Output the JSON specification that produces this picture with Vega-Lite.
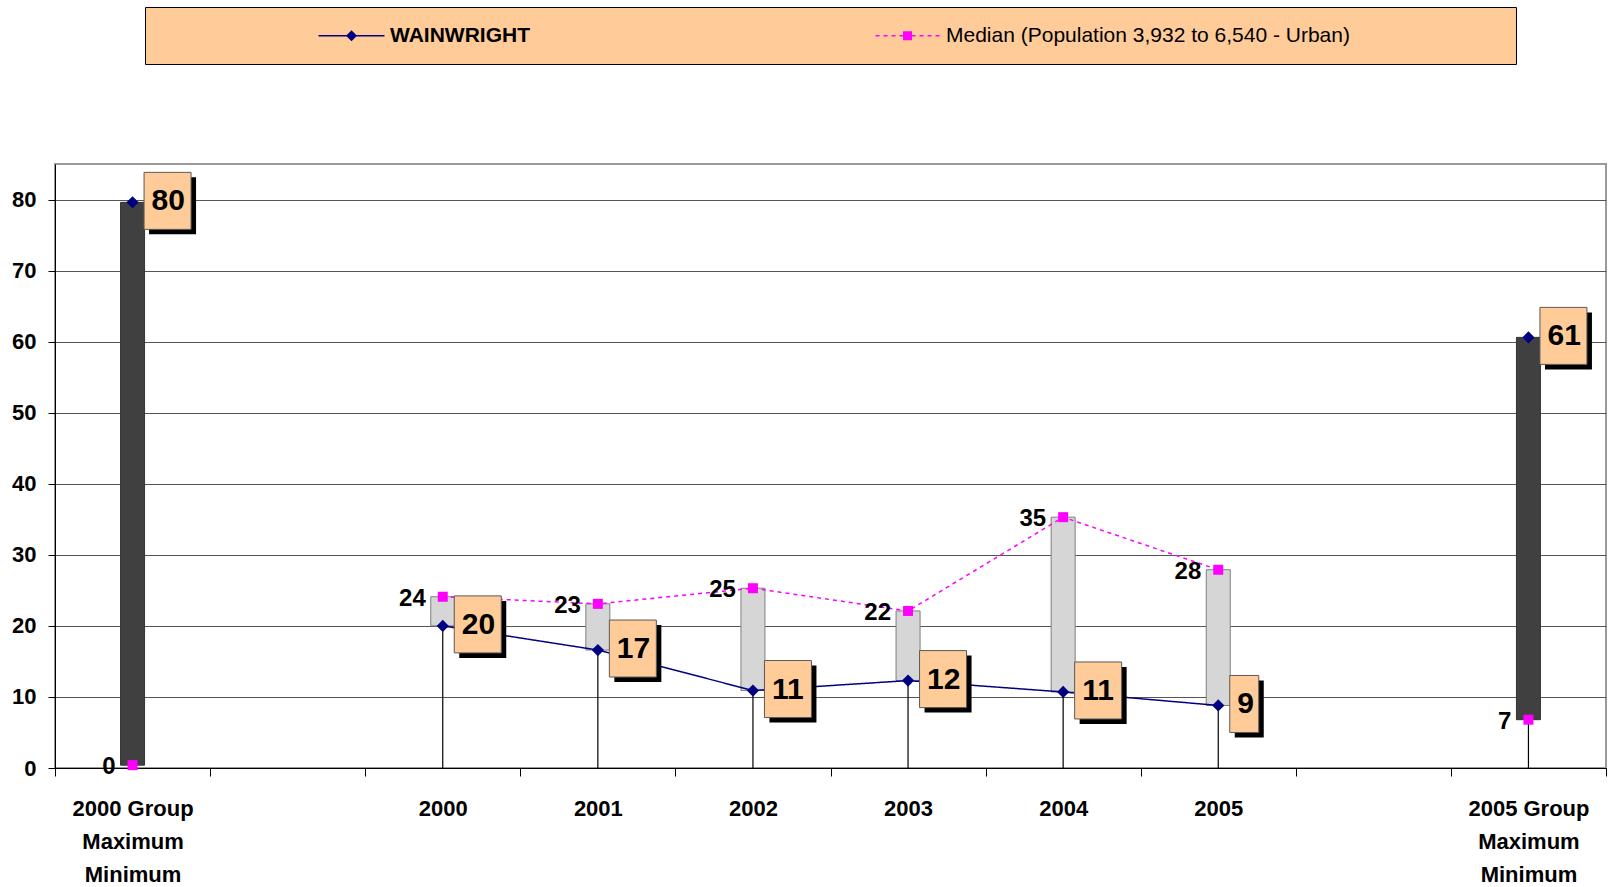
{
  "$schema": "https://vega.github.io/schema/vega-lite/v6.json",
  "autosize": {"type": "none"},
  "padding": {"left": 55, "top": 164, "right": 3, "bottom": 119},
  "width": 1551,
  "height": 604,
  "background": "#FFFFFF",
  "config": {
    "font": "Liberation Sans",
    "view": {"stroke": "#999999", "strokeWidth": 2}
  },
  "data": {
    "values": [
      {"cat": "G2000", "w": 79.6, "m": 0.4},
      {"cat": "2000", "w": 20.0, "m": 24.1},
      {"cat": "2001", "w": 16.6, "m": 23.1},
      {"cat": "2002", "w": 10.9, "m": 25.3},
      {"cat": "2003", "w": 12.3, "m": 22.1},
      {"cat": "2004", "w": 10.7, "m": 35.3},
      {"cat": "2005", "w": 8.8, "m": 27.9},
      {"cat": "G2005", "w": 60.6, "m": 6.8}
    ]
  },
  "encoding": {
    "x": {
      "field": "cat", "type": "nominal",
      "scale": {"type": "band", "domain": ["G2000", "b1", "2000", "2001", "2002", "2003", "2004", "2005", "b2", "G2005"], "paddingInner": 0, "paddingOuter": 0},
      "axis": {
        "title": null, "labelAngle": 0, "tickBand": "extent", "tickSize": 8, "tickColor": "#000000",
        "domainColor": "#000000", "grid": false, "labelPadding": 22, "labelFontSize": 22, "labelFontWeight": "bold",
        "labelColor": "#000000", "labelLineHeight": 33, "labelBaseline": "top",
        "labelExpr": "datum.value == 'G2000' ? ['2000 Group','Maximum','Minimum'] : datum.value == 'G2005' ? ['2005 Group','Maximum','Minimum'] : (datum.value == 'b1' || datum.value == 'b2') ? '' : datum.value"
      }
    }
  },
  "layer": [
    {
      "mark": {"type": "rule", "color": "#000000", "strokeWidth": 1.2},
      "encoding": {
        "y": {"field": "w", "type": "quantitative", "scale": {"domain": [0, 85], "nice": false},
          "axis": {"title": null, "values": [0, 10, 20, 30, 40, 50, 60, 70, 80], "grid": true, "gridColor": "#555555",
            "domainColor": "#000000", "tickColor": "#000000", "tickSize": 7, "labelPadding": 12, "labelFontSize": 22,
            "labelFontWeight": "bold", "labelColor": "#000000"}},
        "y2": {"datum": 0}
      }
    },
    {
      "mark": {"type": "bar", "width": 24, "strokeWidth": 1},
      "encoding": {
        "y": {"field": "w", "type": "quantitative"},
        "y2": {"field": "m"},
        "fill": {"condition": {"test": "datum.cat == 'G2000' || datum.cat == 'G2005'", "value": "#404040"}, "value": "#D6D6D6"},
        "stroke": {"condition": {"test": "datum.cat == 'G2000' || datum.cat == 'G2005'", "value": "#333333"}, "value": "#7F7F7F"}
      }
    },
    {
      "transform": [
        {"filter": {"field": "cat", "oneOf": ["2000", "2001", "2002", "2003", "2004", "2005"]}},
        {"fold": ["w", "m"], "as": ["series", "value"]}
      ],
      "mark": {"type": "line", "strokeWidth": 1.5},
      "encoding": {
        "y": {"field": "value", "type": "quantitative"},
        "color": {
          "field": "series", "type": "nominal",
          "scale": {"domain": ["w", "m"], "range": ["#000080", "#FF00FF"]},
          "legend": {
            "orient": "none", "legendX": 90, "legendY": -157, "direction": "horizontal", "title": null,
            "fillColor": "#FFCC99", "strokeColor": "#000000", "padding": 18,
            "labelExpr": "datum.value == 'w' ? 'WAINWRIGHT' : 'Median (Population 3,932 to 6,540 - Urban)'",
            "labelFontSize": 21, "labelColor": "#000000", "labelLimit": 0,
            "symbolSize": 4, "symbolStrokeWidth": 0, "symbolOffset": 178, "labelOffset": 28, "columnPadding": 189,
            "encode": {
              "symbols": {"update": {
                "shape": {"signal": "datum.value == 'w' ? 'M-33,-0.8H33V0.8H-33ZM0,-5.5L5.5,0L0,5.5L-5.5,0Z' : 'M-32,-0.8H-28V0.8H-32ZM-24,-0.8H-20V0.8H-24ZM-16,-0.8H-12V0.8H-16ZM-8,-0.8H-4V0.8H-8ZM4,-0.8H8V0.8H4ZM12,-0.8H16V0.8H12ZM20,-0.8H24V0.8H20ZM28,-0.8H32V0.8H28ZM-4.5,-4.5H4.5V4.5H-4.5ZM590,0'"},
                "fill": {"signal": "datum.value == 'w' ? '#000080' : '#FF00FF'"},
                "stroke": {"value": "transparent"},
                "opacity": {"value": 1}
              }},
              "labels": {"update": {"fontWeight": {"signal": "datum.value == 'w' ? 'bold' : 'normal'"}}}
            }
          }
        },
        "strokeDash": {"field": "series", "type": "nominal", "scale": {"domain": ["w", "m"], "range": [[1, 0], [4, 4]]}, "legend": null}
      }
    },
    {
      "mark": {"type": "point", "shape": "diamond", "filled": true, "color": "#000080", "size": 150, "opacity": 1},
      "encoding": {"y": {"field": "w", "type": "quantitative"}}
    },
    {
      "mark": {"type": "point", "shape": "square", "filled": true, "color": "#FF00FF", "size": 100, "opacity": 1},
      "encoding": {"y": {"field": "m", "type": "quantitative"}}
    },
    {
      "mark": {"type": "text", "align": "right", "baseline": "middle", "dx": -17, "dy": 2, "fontSize": 24, "fontWeight": "bold", "color": "#000000"},
      "encoding": {"y": {"field": "m", "type": "quantitative"}, "text": {"field": "m", "type": "quantitative", "format": ".0f"}}
    },
    {
      "mark": {"type": "point", "filled": true, "size": 4, "fill": "#000000", "strokeWidth": 0, "opacity": 1},
      "encoding": {
        "y": {"field": "w", "type": "quantitative"},
        "shape": {"condition": {"test": "datum.w < 9.5", "value": "M16.5,-25H45.5V32H16.5Z"}, "value": "M16.5,-25H63.5V32H16.5Z"}
      }
    },
    {
      "mark": {"type": "point", "filled": true, "size": 4, "fill": "#FFCC99", "stroke": "#5A5A5A", "strokeWidth": 1, "opacity": 1},
      "encoding": {
        "y": {"field": "w", "type": "quantitative"},
        "shape": {"condition": {"test": "datum.w < 9.5", "value": "M11.5,-30H40.5V27H11.5Z"}, "value": "M11.5,-30H58.5V27H11.5Z"}
      }
    },
    {
      "mark": {"type": "text", "align": "left", "baseline": "middle", "dx": 19, "dy": -1, "fontSize": 30, "fontWeight": "bold", "color": "#000000"},
      "encoding": {"y": {"field": "w", "type": "quantitative"}, "text": {"field": "w", "type": "quantitative", "format": ".0f"}}
    }
  ]
}
